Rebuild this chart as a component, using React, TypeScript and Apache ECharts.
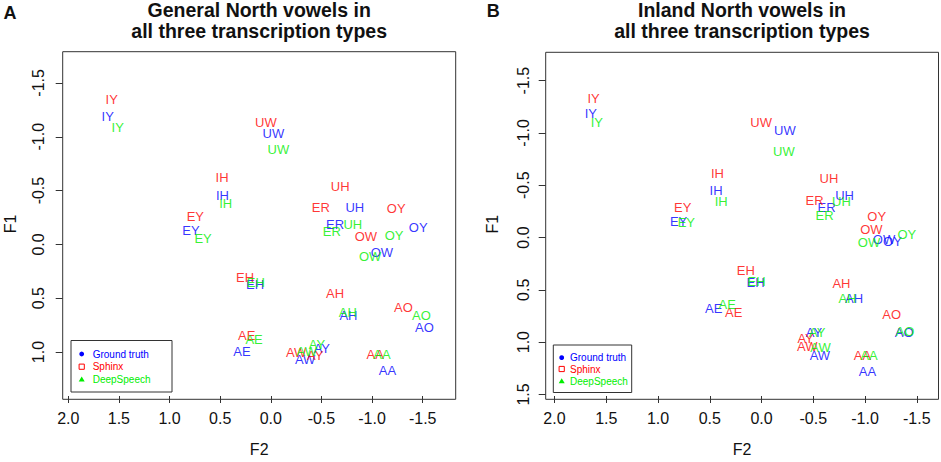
import React, { useEffect, useRef } from "react";
import * as echarts from "echarts";

const vowels = ["IY", "IH", "EY", "EH", "AE", "AA", "AO", "AH", "UW", "UH", "OW", "OY", "AW", "AY", "ER"];

// General North (panel A)
const gnTruthF2 = [1.611, 0.478, 0.788, 0.155, 0.284, -1.152, -1.518, -0.767, -0.026, -0.83, -1.097, -1.456, -0.339, -0.504, -0.635];
const gnTruthF1 = [-1.185, -0.457, -0.127, 0.374, 0.995, 1.172, 0.775, 0.659, -1.032, -0.347, 0.072, -0.158, 1.072, 0.965, -0.188];
const gnSphinxF2 = [1.571, 0.481, 0.745, 0.254, 0.237, -1.031, -1.31, -0.635, 0.049, -0.685, -0.939, -1.238, -0.25, -0.438, -0.494];
const gnSphinxF1 = [-1.35, -0.619, -0.259, 0.307, 0.849, 1.026, 0.583, 0.46, -1.13, -0.534, -0.075, -0.334, 1.002, 1.032, -0.344];
const gnDeepF2 = [1.512, 0.445, 0.669, 0.148, 0.165, -1.097, -1.488, -0.761, -0.075, -0.81, -0.981, -1.218, -0.356, -0.455, -0.603];
const gnDeepF1 = [-1.084, -0.381, -0.055, 0.353, 0.879, 1.02, 0.659, 0.628, -0.885, -0.182, 0.115, -0.081, 0.995, 0.934, -0.121];

// Inland North (panel B)
const inTruthF2 = [1.649, 0.439, 0.801, 0.058, 0.462, -1.023, -1.378, -0.894, -0.226, -0.803, -1.184, -1.265, -0.564, -0.506, -0.629];
const inTruthF1 = [-1.183, -0.447, -0.157, 0.432, 0.675, 1.284, 0.905, 0.581, -1.027, -0.403, 0.023, 0.038, 1.132, 0.912, -0.287];
const inSphinxF2 = [1.623, 0.426, 0.762, 0.152, 0.268, -0.975, -1.258, -0.772, 0.003, -0.652, -1.062, -1.113, -0.442, -0.426, -0.513];
const inSphinxF1 = [-1.325, -0.608, -0.29, 0.312, 0.716, 1.126, 0.738, 0.439, -1.103, -0.568, -0.079, -0.204, 1.038, 0.969, -0.356];
const inDeepF2 = [1.591, 0.39, 0.726, 0.048, 0.332, -1.039, -1.387, -0.83, -0.216, -0.772, -1.039, -1.404, -0.571, -0.539, -0.61];
const inDeepF1 = [-1.103, -0.343, -0.145, 0.416, 0.638, 1.126, 0.899, 0.581, -0.826, -0.341, 0.047, -0.025, 1.047, 0.905, -0.214];

const xTicks = [2.0, 1.5, 1.0, 0.5, 0.0, -0.5, -1.0, -1.5];
const yTicksA = [-1.5, -1.0, -0.5, 0.0, 0.5, 1.0];
const yTicksB = [-1.5, -1.0, -0.5, 0.0, 0.5, 1.0, 1.5];

const legendNames = ["Ground truth", "Sphinx", "DeepSpeech"];
const titleA = ["General North vowels in", "all three transcription types"];
const titleB = ["Inland North vowels in", "all three transcription types"];

const BLUE = "#0000ff";
const RED = "#ff0000";
const GREEN = "#00ee00";
const FONT = "'Liberation Sans', Arial, Helvetica, sans-serif";

const GRID_A = { left: 62.7, top: 51.7, width: 393, height: 347.6 };
const GRID_B = { left: 545.7, top: 52.3, width: 392.8, height: 347 };

function pts(f2: number[], f1: number[]) {
  return vowels.map((v, i) => ({ name: v, value: [f2[i], f1[i]] }));
}

function labelSeries(name: string, idx: number, f2: number[], f1: number[], color: string) {
  return {
    type: "scatter",
    name,
    xAxisIndex: idx,
    yAxisIndex: idx,
    symbol: "circle",
    symbolSize: 1,
    silent: true,
    itemStyle: { color: "rgba(0,0,0,0)" },
    label: {
      show: true,
      position: "inside",
      formatter: "{b}",
      color,
      fontSize: 13,
      fontFamily: FONT,
    },
    data: pts(f2, f1),
  };
}

function xAxis(idx: number, min: number, max: number, labelMargin: number) {
  return {
    type: "value",
    gridIndex: idx,
    position: "bottom",
    inverse: true,
    min,
    max,
    name: "F2",
    nameLocation: "middle",
    nameGap: 45,
    nameTextStyle: { fontSize: 16, color: "#111", fontFamily: FONT },
    splitLine: { show: false },
    axisLine: { show: false, onZero: false },
    axisTick: { show: true, length: 7, inside: false, customValues: xTicks, lineStyle: { color: "#333" } },
    axisLabel: {
      show: true,
      customValues: xTicks,
      margin: labelMargin,
      fontSize: 16,
      color: "#111",
      fontFamily: FONT,
      formatter: (v: number) => v.toFixed(1),
    },
  };
}

function yAxis(idx: number, min: number, max: number, ticks: number[], labelMargin: number, nameGap: number) {
  return {
    type: "value",
    gridIndex: idx,
    position: "left",
    inverse: true,
    min,
    max,
    name: "F1",
    nameLocation: "middle",
    nameGap,
    nameTextStyle: { fontSize: 16, color: "#111", fontFamily: FONT },
    splitLine: { show: false },
    axisLine: { show: false, onZero: false },
    axisTick: { show: true, length: 7, inside: false, customValues: ticks, lineStyle: { color: "#333" } },
    axisLabel: {
      show: true,
      customValues: ticks,
      rotate: 90,
      margin: labelMargin,
      fontSize: 16,
      color: "#111",
      fontFamily: FONT,
      formatter: (v: number) => v.toFixed(1),
    },
  };
}

function frame(g: { left: number; top: number; width: number; height: number }) {
  return {
    type: "rect",
    shape: { x: g.left, y: g.top, width: g.width, height: g.height },
    style: { fill: "none", stroke: "#333", lineWidth: 1 },
    silent: true,
  };
}

function legendGraphic(x: number, y: number, w: number, h: number, symX: number, textX: number, rows: number[]) {
  const colors = [BLUE, RED, GREEN];
  const children: any[] = [
    { type: "rect", shape: { x, y, width: w, height: h }, style: { fill: "#fff", stroke: "#333", lineWidth: 1 } },
    { type: "circle", shape: { cx: symX, cy: rows[0], r: 2.4 }, style: { fill: BLUE } },
    { type: "rect", shape: { x: symX - 2.6, y: rows[1] - 2.6, width: 5.2, height: 5.2 }, style: { fill: "none", stroke: RED, lineWidth: 1 } },
    {
      type: "polygon",
      shape: { points: [[symX - 3, rows[2] + 2.3], [symX + 3, rows[2] + 2.3], [symX, rows[2] - 2.8]] },
      style: { fill: GREEN },
    },
  ];
  legendNames.forEach((n, i) => {
    children.push({
      type: "text",
      x: textX,
      y: rows[i],
      style: { text: n, fill: colors[i], font: `10px ${FONT}`, align: "left", verticalAlign: "middle" },
    });
  });
  return children;
}

function titleGraphic(cx: number, lines: string[]) {
  return lines.map((t, i) => ({
    type: "text",
    x: cx,
    y: i === 0 ? 9.9 : 31.3,
    style: { text: t, fill: "#111", font: `bold 19.5px ${FONT}`, align: "center", verticalAlign: "middle" },
  }));
}

export default function App() {
  const ref = useRef<HTMLDivElement>(null);

  useEffect(() => {
    if (!ref.current) return;
    const chart = echarts.init(ref.current, undefined, { renderer: "svg" });
    const option: any = {
      animation: false,
      backgroundColor: "#fff",
      textStyle: { fontFamily: FONT },
      grid: [
        { ...GRID_A, containLabel: false },
        { ...GRID_B, containLabel: false },
      ],
      xAxis: [xAxis(0, -1.826, 2.055, 14), xAxis(1, -1.71, 2.085, 14)],
      yAxis: [yAxis(0, -1.79, 1.408, yTicksA, 16, 44), yAxis(1, -1.771, 1.515, yTicksB, 14, 45)],
      series: [
        labelSeries("Ground truth", 0, gnTruthF2, gnTruthF1, BLUE),
        labelSeries("Sphinx", 0, gnSphinxF2, gnSphinxF1, RED),
        labelSeries("DeepSpeech", 0, gnDeepF2, gnDeepF1, GREEN),
        labelSeries("Ground truth", 1, inTruthF2, inTruthF1, BLUE),
        labelSeries("Sphinx", 1, inSphinxF2, inSphinxF1, RED),
        labelSeries("DeepSpeech", 1, inDeepF2, inDeepF1, GREEN),
      ],
      graphic: [
        frame(GRID_A),
        frame(GRID_B),
        ...titleGraphic(259.2, titleA),
        ...titleGraphic(742, titleB),
        { type: "text", x: 10, y: 12.5, style: { text: "A", fill: "#111", font: `bold 18px ${FONT}`, align: "center", verticalAlign: "middle" } },
        { type: "text", x: 493.3, y: 10.8, style: { text: "B", fill: "#111", font: `bold 18px ${FONT}`, align: "center", verticalAlign: "middle" } },
        ...legendGraphic(71, 340.5, 101, 51.5, 81.7, 92.7, [354, 366.7, 379.3]),
        ...legendGraphic(553.3, 345, 78.4, 47.5, 561.7, 570, [357.7, 369, 381]),
      ],
    };
    chart.setOption(option);
    return () => chart.dispose();
  }, []);

  return (
    <div
      ref={ref}
      style={{ position: "fixed", left: 0, top: 0, width: 941, height: 462, background: "#fff" }}
    />
  );
}
